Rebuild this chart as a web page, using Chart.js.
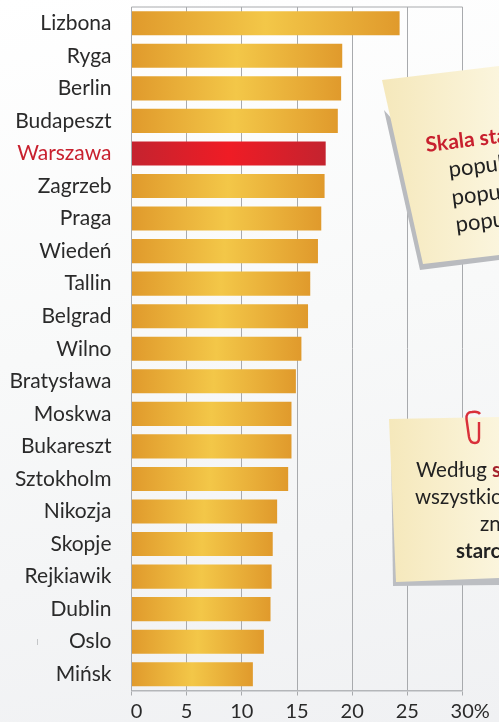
<!DOCTYPE html>
<html lang="pl">
<head>
<meta charset="utf-8">
<title>Starzenie się miast</title>
<script src="https://cdn.jsdelivr.net/npm/chart.js@4"></script>
<style>
  html, body { margin: 0; padding: 0; }
  body { width: 499px; height: 722px; overflow: hidden; position: relative; font-family: Lato, sans-serif;
         background: linear-gradient(170deg, #ffffff 0%, #f8f9f9 45%, #f0f1f3 100%); }
  #chart { position: absolute; left: 0; top: 0; }
  .shape { position: absolute; left: 0; top: 0; width: 499px; height: 722px; }
  .line { position: absolute; font-size: 20.5px; line-height: 24px; color: #222; white-space: nowrap; }
  .red { color: #c8202e; font-weight: 700; }
  .dark-red { color: #a5232d; font-weight: 700; }
  .b { font-weight: 700; }
  .rot { transform: rotate(-7deg); transform-origin: left bottom; }
</style>
</head>
<body>
<canvas id="chart" width="499" height="722"></canvas>

<svg class="shape" viewBox="0 0 499 722">
  <defs>
    <linearGradient id="note" x1="0" x2="1" y1="0" y2="0">
      <stop offset="0" stop-color="#f5e8bb"/>
      <stop offset="1" stop-color="#fbf5dd"/>
    </linearGradient>
  </defs>
  <polygon points="384,110 420,270 499,260 499,240" fill="#b9bbbf"/>
  <polygon points="382,80 499,66 499,255 423,264" fill="url(#note)"/>
  <polygon points="391,443 393,586 499,585 499,560" fill="#bcbec2"/>
  <polygon points="389,419 499,417 499,578 396,582" fill="url(#note)"/>
  <path d="M479,422 L479,438 Q479,443 475,443 Q470,443 469,437 L466.500,419 Q466,412 472,412 Q478,411 480,414"
        fill="none" stroke="#d9303a" stroke-width="2.400"/>
  <rect x="37" y="639" width="1" height="6" fill="#c4c6c8"/>
</svg>

<div class="line red rot" style="left:427px;top:132px;font-size:21px">Skala sta</div>
<div class="line rot" style="left:450px;top:157px;font-size:22px">popul</div>
<div class="line rot" style="left:453px;top:185px;font-size:22px">popu</div>
<div class="line rot" style="left:457px;top:212px;font-size:22px">popu</div>

<div class="line" style="left:416px;top:457px">Według <span class="dark-red">s</span></div>
<div class="line" style="left:415px;top:484px">wszystkic</div>
<div class="line" style="left:480px;top:511px">zn</div>
<div class="line b" style="left:456px;top:538px">starc</div>

<script>
const cities = ['Lizbona', 'Ryga', 'Berlin', 'Budapeszt', 'Warszawa', 'Zagrzeb', 'Praga', 'Wiedeń', 'Tallin', 'Belgrad', 'Wilno', 'Bratysława', 'Moskwa', 'Bukareszt', 'Sztokholm', 'Nikozja', 'Skopje', 'Rejkiawik', 'Dublin', 'Oslo', 'Mińsk'];
const shares = [24.3, 19.1, 19.0, 18.7, 17.6, 17.5, 17.2, 16.9, 16.2, 16.0, 15.4, 14.9, 14.5, 14.5, 14.2, 13.2, 12.8, 12.7, 12.6, 12.0, 11.0];
const tickLabels = ['  0', '5', '10', '15', '20', '25', '   30%'];
const highlighted = 'Warszawa';

const barFill = (ctx) => {
  const { chart, dataIndex, raw } = ctx;
  const x = chart.scales.x;
  const x0 = x ? x.getPixelForValue(0) : NaN;
  const x1 = x ? x.getPixelForValue(raw) : NaN;
  // scales are not laid out on the first pass
  if (!Number.isFinite(x0) || !Number.isFinite(x1)) return '#e9b23c';
  const g = chart.ctx.createLinearGradient(x0, 0, x1, 0);
  if (cities[dataIndex] === highlighted) {
    g.addColorStop(0, '#c4232f');
    g.addColorStop(0.5, '#ef1c25');
    g.addColorStop(1, '#c4232f');
  } else {
    g.addColorStop(0, '#e09a2c');
    g.addColorStop(0.5, '#f3c748');
    g.addColorStop(1, '#e09a2c');
  }
  return g;
};

// the frame has a line along the top too
const topLine = {
  id: 'topLine',
  beforeDatasetsDraw(chart) {
    const { ctx, chartArea } = chart;
    ctx.save();
    ctx.strokeStyle = '#a8aaad';
    ctx.lineWidth = 1;
    ctx.beginPath();
    ctx.moveTo(chartArea.left, chartArea.top);
    ctx.lineTo(chartArea.right, chartArea.top);
    ctx.stroke();
    ctx.restore();
  }
};

new Chart(document.getElementById('chart'), {
  type: 'bar',
  data: {
    labels: cities,
    datasets: [{ data: shares, backgroundColor: barFill, categoryPercentage: 1, barPercentage: 0.74 }],
  },
  options: {
    indexAxis: 'y',
    responsive: false,
    animation: false,
    layout: { padding: { top: 7, right: 36.5, bottom: 0, left: 0 } },
    plugins: { legend: { display: false }, tooltip: { enabled: false } },
    scales: {
      x: {
        min: 0,
        max: 30,
        afterFit: (scale) => {
          scale.height = 31.5;
          scale.paddingLeft = 0;
          scale.paddingRight = 0;
        },
        afterBuildTicks: (scale) => { scale.ticks = tickLabels.map((_, i) => ({ value: i * 5 })); },
        grid: { color: '#a8aaad', tickLength: 5, tickColor: '#a8aaad' },
        border: { color: '#b4b6b9', width: 1.5 },
        ticks: {
          autoSkip: false,
          maxRotation: 0,
          padding: 4,
          color: '#2a2a2a',
          font: { family: 'Lato', size: 20 },
          callback: (value, i) => tickLabels[i],
        },
      },
      y: {
        afterFit: (scale) => {
          scale.width = 131.5;
          scale.paddingTop = 0;
          scale.paddingBottom = 0;
        },
        grid: { display: false },
        border: { color: '#a8aaad', width: 1 },
        ticks: {
          autoSkip: false,
          padding: 12,
          color: (ctx) => (cities[ctx.index] === highlighted ? '#c8202e' : '#2a2a2a'),
          font: { family: 'Lato', size: 21 },
        },
      },
    },
  },
  plugins: [topLine],
});
</script>
</body>
</html>
